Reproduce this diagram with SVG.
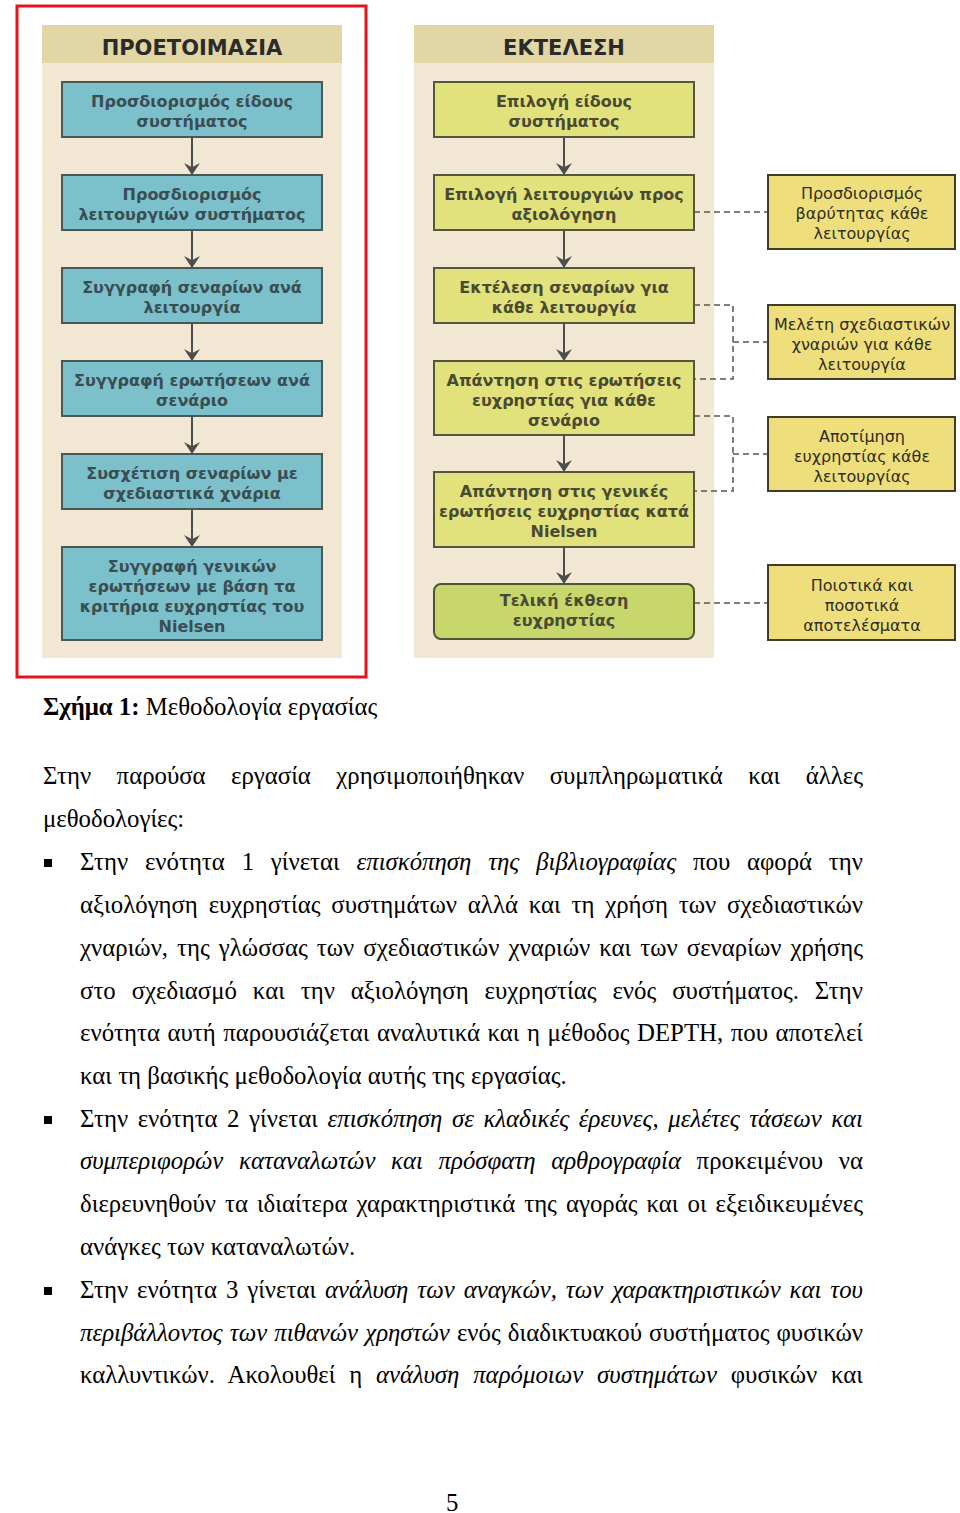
<svg xmlns="http://www.w3.org/2000/svg" width="960" height="1513" viewBox="0 0 960 1513">
<style>
.panel{fill:#f1e7d3}
.phead{fill:#e3d6a5}
.ht{font-family:"DejaVu Sans",Verdana,sans-serif;font-weight:bold;font-size:21px;fill:#2b2b2b;text-anchor:middle}
.bl{fill:#7cc0cb;stroke:#4a5759;stroke-width:2}
.bm{fill:#e1e27b;stroke:#55563f;stroke-width:2}
.bf{fill:#c8d76c;stroke:#4f5436;stroke-width:2}
.br{fill:#efdf7c;stroke:#3f3d2a;stroke-width:2}
.tb{font-family:"DejaVu Sans",Verdana,sans-serif;font-weight:bold;font-size:16px;text-anchor:middle}
.tl{fill:#3a4d52}
.tm{fill:#4a4a34}
.tr{font-family:"DejaVu Sans",Verdana,sans-serif;font-size:16px;text-anchor:middle;fill:#2f2d20}
.arr{stroke:#4d4d4d;stroke-width:2;fill:none;marker-end:url(#ah)}
.dash{stroke:#555;stroke-width:1.5;fill:none;stroke-dasharray:6 4}
.body{font-family:"Liberation Serif","Times New Roman",serif;font-size:24.8px;fill:#000}
.it{font-style:italic}
</style>
<defs>
<marker id="ah" viewBox="0 0 10 10" refX="10" refY="5" markerWidth="12" markerHeight="16" markerUnits="userSpaceOnUse" orient="auto" preserveAspectRatio="none">
<path d="M0,0 L10,5 L0,10 L3.5,5 Z" fill="#4d4d4d"/>
</marker>
</defs>
<rect width="960" height="1513" fill="#fff"/>

<g id="frame">
<rect x="17" y="6" width="349" height="671" fill="none" stroke="#e3151b" stroke-width="3"/>
</g>

<g id="panel-prep">
<rect class="panel" x="42" y="25" width="300" height="633"/>
<rect class="phead" x="42" y="25" width="300" height="38"/>
<text class="ht" x="192" y="55">ΠΡΟΕΤΟΙΜΑΣΙΑ</text>
</g>
<g id="panel-exec">
<rect class="panel" x="414" y="25" width="300" height="633"/>
<rect class="phead" x="414" y="25" width="300" height="38"/>
<text class="ht" x="564" y="55">ΕΚΤΕΛΕΣΗ</text>
</g>

<g id="connectors">
<line class="arr" x1="192" y1="137" x2="192" y2="175"/>
<line class="arr" x1="192" y1="230" x2="192" y2="268"/>
<line class="arr" x1="192" y1="323" x2="192" y2="361"/>
<line class="arr" x1="192" y1="416" x2="192" y2="454"/>
<line class="arr" x1="192" y1="509" x2="192" y2="547"/>
<line class="arr" x1="564" y1="137" x2="564" y2="175"/>
<line class="arr" x1="564" y1="230" x2="564" y2="268"/>
<line class="arr" x1="564" y1="323" x2="564" y2="361"/>
<line class="arr" x1="564" y1="435" x2="564" y2="472"/>
<line class="arr" x1="564" y1="547" x2="564" y2="584"/>
<path class="dash" d="M694,212 H768"/>
<path class="dash" d="M694,305 H733 V379 H694 M733,342 H768"/>
<path class="dash" d="M694,416 H733 V491 H694 M733,454 H768"/>
<path class="dash" d="M694,603 H768"/>
</g>

<g id="p1"><rect class="bl" x="62" y="82" width="260" height="55"/>
<text class="tb tl" x="192" y="107">Προσδιορισμός είδους</text><text class="tb tl" x="192" y="127">συστήματος</text></g>
<g id="p2"><rect class="bl" x="62" y="175" width="260" height="55"/>
<text class="tb tl" x="192" y="200">Προσδιορισμός</text><text class="tb tl" x="192" y="220">λειτουργιών συστήματος</text></g>
<g id="p3"><rect class="bl" x="62" y="268" width="260" height="55"/>
<text class="tb tl" x="192" y="293">Συγγραφή σεναρίων ανά</text><text class="tb tl" x="192" y="313">λειτουργία</text></g>
<g id="p4"><rect class="bl" x="62" y="361" width="260" height="55"/>
<text class="tb tl" x="192" y="386">Συγγραφή ερωτήσεων ανά</text><text class="tb tl" x="192" y="406">σενάριο</text></g>
<g id="p5"><rect class="bl" x="62" y="454" width="260" height="55"/>
<text class="tb tl" x="192" y="479">Συσχέτιση σεναρίων με</text><text class="tb tl" x="192" y="499">σχεδιαστικά χνάρια</text></g>
<g id="p6"><rect class="bl" x="62" y="547" width="260" height="93"/>
<text class="tb tl" x="192" y="572">Συγγραφή γενικών</text><text class="tb tl" x="192" y="592">ερωτήσεων με βάση τα</text><text class="tb tl" x="192" y="612">κριτήρια ευχρηστίας του</text><text class="tb tl" x="192" y="632">Nielsen</text></g>

<g id="e1"><rect class="bm" x="434" y="82" width="260" height="55"/>
<text class="tb tm" x="564" y="107">Επιλογή είδους</text><text class="tb tm" x="564" y="127">συστήματος</text></g>
<g id="e2"><rect class="bm" x="434" y="175" width="260" height="55"/>
<text class="tb tm" x="564" y="200">Επιλογή λειτουργιών προς</text><text class="tb tm" x="564" y="220">αξιολόγηση</text></g>
<g id="e3"><rect class="bm" x="434" y="268" width="260" height="55"/>
<text class="tb tm" x="564" y="293">Εκτέλεση σεναρίων για</text><text class="tb tm" x="564" y="313">κάθε λειτουργία</text></g>
<g id="e4"><rect class="bm" x="434" y="361" width="260" height="74"/>
<text class="tb tm" x="564" y="386">Απάντηση στις ερωτήσεις</text><text class="tb tm" x="564" y="406">ευχρηστίας για κάθε</text><text class="tb tm" x="564" y="426">σενάριο</text></g>
<g id="e5"><rect class="bm" x="434" y="472" width="260" height="75"/>
<text class="tb tm" x="564" y="497">Απάντηση στις γενικές</text><text class="tb tm" x="564" y="517">ερωτήσεις ευχρηστίας κατά</text><text class="tb tm" x="564" y="537">Nielsen</text></g>
<g id="e6"><rect class="bf" x="434" y="584" width="260" height="55" rx="7"/>
<text class="tb tm" x="564" y="606">Τελική έκθεση</text><text class="tb tm" x="564" y="626">ευχρηστίας</text></g>

<g id="r1"><rect class="br" x="768" y="175" width="187" height="74"/>
<text class="tr" x="862" y="199">Προσδιορισμός</text><text class="tr" x="862" y="219">βαρύτητας κάθε</text><text class="tr" x="862" y="239">λειτουργίας</text></g>
<g id="r2"><rect class="br" x="768" y="305" width="187" height="74"/>
<text class="tr" x="862" y="330">Μελέτη σχεδιαστικών</text><text class="tr" x="862" y="350">χναριών για κάθε</text><text class="tr" x="862" y="370">λειτουργία</text></g>
<g id="r3"><rect class="br" x="768" y="417" width="187" height="74"/>
<text class="tr" x="862" y="442">Αποτίμηση</text><text class="tr" x="862" y="462">ευχρηστίας κάθε</text><text class="tr" x="862" y="482">λειτουργίας</text></g>
<g id="r4"><rect class="br" x="768" y="565" width="187" height="75"/>
<text class="tr" x="862" y="591">Ποιοτικά και</text><text class="tr" x="862" y="611">ποσοτικά</text><text class="tr" x="862" y="631">αποτελέσματα</text></g>

<g id="text">
<text class="body" x="43" y="715"><tspan font-weight="bold">Σχήμα 1:</tspan> Μεθοδολογία εργασίας</text>
<text class="body" x="43" y="784" word-spacing="19.3" textLength="820" lengthAdjust="spacing">Στην παρούσα εργασία χρησιμοποιήθηκαν συμπληρωματικά και άλλες</text>
<text class="body" x="43" y="827">μεθοδολογίες:</text>
<rect x="44" y="859" width="8" height="8" fill="#000"/>
<text class="body" x="80" y="870" word-spacing="10.6" textLength="783" lengthAdjust="spacing">Στην ενότητα 1 γίνεται <tspan class="it">επισκόπηση της βιβλιογραφίας</tspan> που αφορά την</text>
<text class="body" x="80" y="913" word-spacing="4.6" textLength="783" lengthAdjust="spacing">αξιολόγηση ευχρηστίας συστημάτων αλλά και τη χρήση των σχεδιαστικών</text>
<text class="body" x="80" y="956" word-spacing="2.8" textLength="783" lengthAdjust="spacing">χναριών, της γλώσσας των σχεδιαστικών χναριών και των σεναρίων χρήσης</text>
<text class="body" x="80" y="999" word-spacing="9.7" textLength="783" lengthAdjust="spacing">στο σχεδιασμό και την αξιολόγηση ευχρηστίας ενός συστήματος. Στην</text>
<text class="body" x="80" y="1041" word-spacing="1.3" textLength="783" lengthAdjust="spacing">ενότητα αυτή παρουσιάζεται αναλυτικά και η μέθοδος DEPTH, που αποτελεί</text>
<text class="body" x="80" y="1084">και τη βασικής μεθοδολογία αυτής της εργασίας.</text>
<rect x="44" y="1116" width="8" height="8" fill="#000"/>
<text class="body" x="80" y="1127" word-spacing="3.3" textLength="783" lengthAdjust="spacing">Στην ενότητα 2 γίνεται <tspan class="it">επισκόπηση σε κλαδικές έρευνες, μελέτες τάσεων και</tspan></text>
<text class="body" x="80" y="1169" word-spacing="9.5" textLength="783" lengthAdjust="spacing"><tspan class="it">συμπεριφορών καταναλωτών και πρόσφατη αρθρογραφία</tspan> προκειμένου να</text>
<text class="body" x="80" y="1212" word-spacing="2.75" textLength="783" lengthAdjust="spacing">διερευνηθούν τα ιδιαίτερα χαρακτηριστικά της αγοράς και οι εξειδικευμένες</text>
<text class="body" x="80" y="1255">ανάγκες των καταναλωτών.</text>
<rect x="44" y="1287" width="8" height="8" fill="#000"/>
<text class="body" x="80" y="1298" word-spacing="2.7" textLength="783" lengthAdjust="spacing">Στην ενότητα 3 γίνεται <tspan class="it">ανάλυση των αναγκών, των χαρακτηριστικών και του</tspan></text>
<text class="body" x="80" y="1341" word-spacing="0.9" textLength="783" lengthAdjust="spacing"><tspan class="it">περιβάλλοντος των πιθανών χρηστών</tspan> ενός διαδικτυακού συστήματος φυσικών</text>
<text class="body" x="80" y="1383" word-spacing="7.6" textLength="783" lengthAdjust="spacing">καλλυντικών. Ακολουθεί η <tspan class="it">ανάλυση παρόμοιων συστημάτων</tspan> φυσικών και</text>
<text class="body" x="446" y="1511">5</text>
</g>
</svg>
